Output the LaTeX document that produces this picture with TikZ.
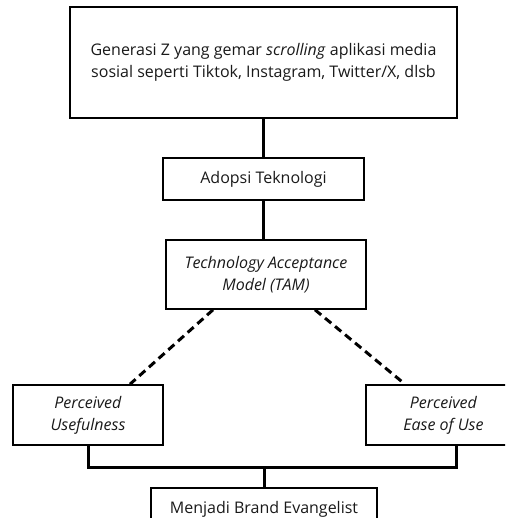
\documentclass[tikz,border=0pt]{standalone}
\usepackage{fontspec}
\setmainfont{Open Sans}
\begin{document}
\begin{tikzpicture}[x=1pt,y=1pt,
  box/.style={draw=black,line width=1.6pt,rectangle,inner sep=0pt,align=center,
    text=black!90,font=\fontsize{16}{22}\selectfont},
  conn/.style={line width=3pt,draw=black},
  dconn/.style={line width=3pt,draw=black,dash pattern=on 8pt off 5pt}]
\useasboundingbox (0,0) rectangle (505,-518);
\clip (0,0) rectangle (505,-518);
\node[box,minimum width=387pt,minimum height=111pt] (gen) at (263.5,-62.5)
  {Generasi Z yang gemar \textit{scrolling} aplikasi media\\sosial seperti Tiktok, Instagram, Twitter/X, dlsb};
\node[box,minimum width=201pt,minimum height=42pt] (adopsi) at (263.5,-179) {Adopsi Teknologi};
\node[box,minimum width=200pt,minimum height=69pt] (tam) at (266,-274.5)
  {\textit{Technology Acceptance}\\\textit{Model (TAM)}};
\node[box,minimum width=150pt,minimum height=60pt] (pu) at (88,-415)
  {\textit{Perceived}\\\textit{Usefulness}};
\node[box,minimum width=155pt,minimum height=60pt] (peu) at (443.5,-415)
  {\textit{Perceived}\\\textit{Ease of Use}};
\node[box,minimum width=226pt,minimum height=42pt] (be) at (264,-509) {Menjadi Brand Evangelist};
\coordinate (J) at (264,-467);
\draw[conn] (gen.south -| adopsi.north) -- (adopsi.north);
\draw[conn] (adopsi.south) -- (adopsi.south |- tam.north);
\draw[dconn] ([xshift=-53pt]tam.south) -- ([xshift=42pt]pu.north);
\draw[dconn] ([xshift=49pt]tam.south) -- ([xshift=-38.5pt]peu.north);
\draw[conn] (pu.south) |- (J) -| ([xshift=12.5pt]peu.south);
\draw[conn] (J) -- (be.north);
\end{tikzpicture}
\end{document}
